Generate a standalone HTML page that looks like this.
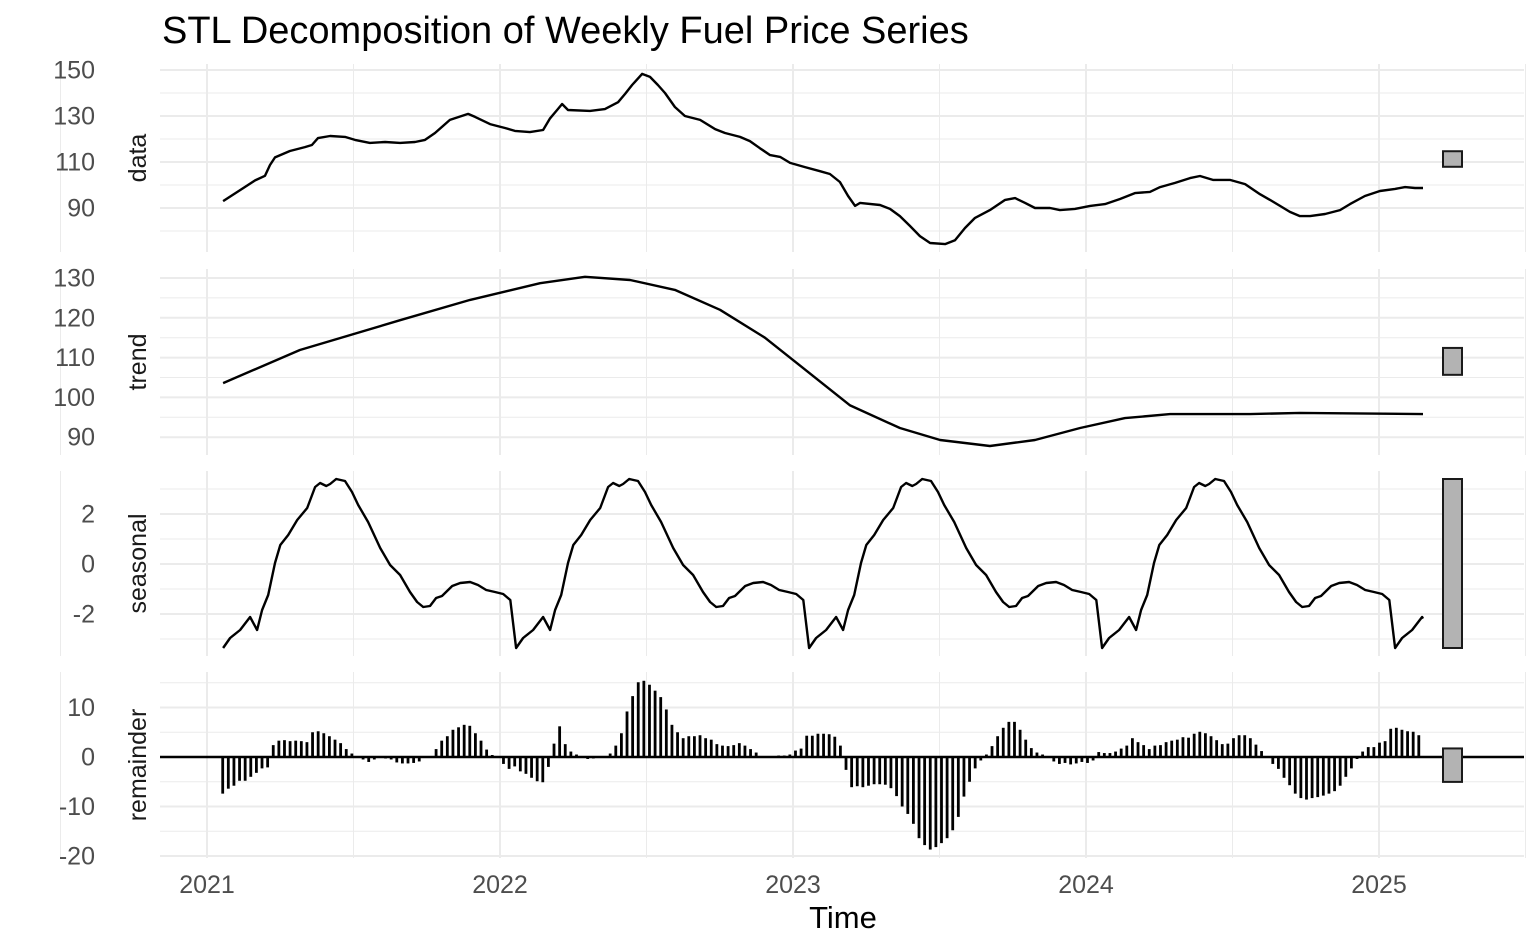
<!DOCTYPE html>
<html><head><meta charset="utf-8"><style>
html,body{margin:0;padding:0;background:#fff;}
svg{display:block;font-family:"Liberation Sans",Arial,sans-serif;}
</style></head><body>
<svg id="chart" width="1540" height="951" xmlns="http://www.w3.org/2000/svg">
<text x="162" y="43" font-size="38" fill="#000">STL Decomposition of Weekly Fuel Price Series</text>
<text x="843" y="928" font-size="31" fill="#000" text-anchor="middle">Time</text>
<g id="layer"></g>
</svg>
<script>
// ---- data ----
const dataTimes = [0.055,0.113,0.164,0.198,0.215,0.232,0.283,0.334,0.358,0.379,0.420,0.471,0.505,0.556,0.608,0.659,0.710,0.744,0.778,0.829,0.891,0.915,0.966,1.017,1.051,1.102,1.147,1.171,1.195,1.212,1.232,1.307,1.358,1.403,1.427,1.451,1.485,1.512,1.539,1.563,1.597,1.631,1.683,1.734,1.768,1.819,1.853,1.887,1.922,1.956,1.990,2.041,2.092,2.126,2.160,2.188,2.212,2.229,2.297,2.331,2.365,2.399,2.433,2.468,2.519,2.553,2.587,2.621,2.672,2.724,2.758,2.792,2.826,2.877,2.911,2.962,3.014,3.065,3.116,3.167,3.218,3.253,3.304,3.355,3.389,3.433,3.491,3.543,3.594,3.628,3.662,3.696,3.730,3.765,3.816,3.867,3.901,3.952,4.003,4.055,4.089,4.123,4.150];
const dataValues = [93,97.8,102,104,108.7,112,114.8,116.5,117.4,120.4,121.3,120.9,119.6,118.3,118.7,118.3,118.7,119.6,122.6,128.3,130.9,129.6,126.5,124.8,123.5,123,123.9,129,132.6,135.2,132.6,132.2,133,136,139.6,143.5,148.3,147,143.5,140,133.9,130,128.3,124.3,122.6,120.9,119.1,116,113,112.2,109.6,107.8,106,104.8,101.3,95.2,90.9,92.2,91.3,89.6,86.5,82.2,77.8,74.8,74.3,76,81.3,85.7,89.1,93.5,94.3,92.2,90,90,89.1,89.6,90.9,91.7,93.9,96.5,97,99.1,100.9,103,103.9,102.2,102.2,100.4,96,93.5,90.9,88.3,86.5,86.5,87.4,89.1,91.7,95.2,97.4,98.3,99.1,98.7,98.7];
const trendTimes = [0.055,0.317,0.659,0.898,1.137,1.290,1.444,1.597,1.751,1.904,2.024,2.195,2.365,2.502,2.672,2.826,2.980,3.133,3.287,3.560,3.730,4.150];
const trendValues = [103.6,111.9,119.4,124.5,128.7,130.3,129.5,127,122,115,108,98,92.3,89.3,87.8,89.3,92.3,94.8,95.8,95.8,96.1,95.8];
const seasonalPhase = [0,.024,.058,.092,.116,.133,.154,.177,.195,.222,.253,.287,.314,.331,.352,.365,.386,.416,.440,.461,.495,.536,.570,.604,.638,.662,.683,.706,.727,.747,.782,.809,.843,.870,.898,.928,.956,.980];
const seasonalValues = [-3.36,-2.96,-2.64,-2.12,-2.64,-1.84,-1.24,0.04,0.76,1.16,1.76,2.24,3.08,3.24,3.12,3.2,3.4,3.32,2.88,2.36,1.68,0.64,-0.04,-0.44,-1.12,-1.52,-1.72,-1.68,-1.36,-1.28,-0.88,-0.76,-0.72,-0.84,-1.04,-1.12,-1.2,-1.44];
const seasonalStart = 0.055, seasonalEnd = 4.150;
const remainderStart = 0.0536;
const remainderValues = [-7.4,-6.4,-5.8,-4.8,-4.8,-4.0,-3.2,-2.3,-2.1,2.4,3.3,3.4,3.2,3.3,3.2,3.0,5.0,5.2,4.8,4.2,3.5,2.8,1.6,0.7,0,-0.5,-1.0,-0.5,0,-0.3,-0.5,-1.1,-1.3,-1.3,-1.2,-0.9,-0.2,0.1,1.6,3.3,4.2,5.5,6.0,6.5,6.3,4.8,3.3,1.5,0.4,0,-1.4,-2.4,-1.9,-2.9,-3.4,-4.2,-4.9,-5.1,-2.0,2.7,6.2,2.6,1.1,0.5,0,-0.4,-0.3,0,0,0.7,2.3,
4.8,9.2,12.3,15.1,15.4,14.6,13.4,12.1,9.6,6.5,5.0,3.8,4.2,4.2,4.4,3.8,3.5,2.6,2.3,2.2,2.4,2.8,2.3,1.6,0.9,0,0.1,0,0.3,0.3,0.5,1.3,1.7,4.3,4.3,4.7,4.7,4.6,4.1,2.3,-2.6,-6.1,-5.9,-6.1,-5.8,-5.5,-5.5,-5.6,-6.3,-7.9,-10.0,-11.5,-13.5,-16.4,-17.8,-18.7,-18.2,-17.4,-16.4,-14.8,-12.1,-8.0,-5.0,-2.3,-0.7,0.5,2.2,4.2,5.9,7.1,7.1,
5.5,3.5,1.8,0.9,0.5,0,-0.9,-1.4,-1.2,-1.5,-1.3,-1.0,-1.2,-0.7,1.0,0.8,0.8,1.1,1.7,2.3,3.8,3.0,2.4,1.6,2.3,2.4,3.0,3.3,3.5,4.0,3.9,4.7,5.1,4.8,4.2,3.4,2.6,2.7,3.8,4.4,4.4,3.8,2.5,1.2,0,-1.4,-2.4,-4.2,-5.7,-7.4,-8.3,-8.6,-8.3,-8.1,-7.8,-7.4,-6.9,-5.8,-4.0,-2.3,-0.4,1.1,2.0,2.0,2.9,3.2,5.7,5.9,5.5,5.2,5.1,4.4];
const yearTicks = [2021,2022,2023,2024,2025];
const dataTicks = [150,130,110,90];
const trendTicks = [130,120,110,100,90];
const seasonalTicks = [2,0,-2];
const remainderTicks = [10,0,-10,-20];

// ---- scales ----
const X0 = 207, PXY = 293;
const xScale = t => X0 + t * PXY;
const panels = {
  data:      {y0:208, v0:90,  k:2.3,   top:64,  bot:252},
  trend:     {y0:278, v0:130, k:3.98,  top:269, bot:455},
  seasonal:  {y0:564, v0:0,   k:25,    top:471, bot:656},
  remainder: {y0:757, v0:0,   k:4.95,  top:672, bot:858}
};
const yS = p => v => p.y0 - (v - p.v0) * p.k;

const NS = 'http://www.w3.org/2000/svg';
const layer = document.getElementById('layer');
function mk(tag, attrs, parent) {
  const el = document.createElementNS(NS, tag);
  for (const k in attrs) el.setAttribute(k, attrs[k]);
  (parent || layer).appendChild(el);
  return el;
}

function drawPanel(name, ticks, minorStep, label) {
  const p = panels[name], y = yS(p);
  const g = mk('g', {});
  
  
  const vmin = p.v0 - (p.bot - p.y0) / p.k, vmax = p.v0 + (p.y0 - p.top) / p.k;
  for (let v = Math.ceil(vmin / minorStep) * minorStep; v <= vmax; v += minorStep) {
    if (ticks.includes(v)) continue;
    const l = mk('line', {x1:160, x2:1524, y1:y(v), y2:y(v), stroke:'#ebebeb', 'stroke-width':1}, g);
    
    
  }
  for (let t = 2020.5; t <= 2025.5; t += 0.5) {
    const major = Number.isInteger(t);
    const l = mk('line', {x1:xScale(t-2021), x2:xScale(t-2021), y1:p.top, y2:p.bot, stroke:'#ebebeb', 'stroke-width': major ? 2 : 1}, g);
    
    
  }
  ticks.forEach(v => {
    const l = mk('line', {x1:160, x2:1524, y1:y(v), y2:y(v), stroke:'#ebebeb', 'stroke-width':2}, g);
    
    
    const tx = mk('text', {x:95, y:y(v)+8.5, 'font-size':25, fill:'#4d4d4d', 'text-anchor':'end'}, g);
    tx.textContent = v;
    
    
  });
  const cy = (p.top + p.bot) / 2;
  const lab = mk('text', {x:0, y:0, 'font-size':25, fill:'#1a1a1a', 'text-anchor':'middle', transform:`translate(146,${cy}) rotate(-90)`}, g);
  lab.textContent = label;
  
  
}
drawPanel('data', dataTicks, 10, 'data');
drawPanel('trend', trendTicks, 5, 'trend');
drawPanel('seasonal', seasonalTicks, 1, 'seasonal');
drawPanel('remainder', remainderTicks, 5, 'remainder');

function line(name, times, vals) {
  const y = yS(panels[name]);
  const d = times.map((t, i) => (i ? 'L' : 'M') + xScale(t).toFixed(1) + ',' + y(vals[i]).toFixed(1)).join('');
  const pth = mk('path', {d, fill:'none', stroke:'#000', 'stroke-width':2.4, 'stroke-linejoin':'round'});
  
  
}
line('data', dataTimes, dataValues);
line('trend', trendTimes, trendValues);
const sT = [], sV = [];
for (let k = 0; k < 6; k++) {
  seasonalPhase.forEach((ph, i) => {
    const t = seasonalStart + k + ph;
    if (t <= seasonalEnd + 1e-6) { sT.push(t); sV.push(seasonalValues[i]); }
  });
}
{
  const ph = seasonalEnd - seasonalStart - Math.floor(seasonalEnd - seasonalStart);
  let j = seasonalPhase.findIndex(p => p > ph);
  if (j > 0 && sT[sT.length-1] < seasonalEnd) {
    const f = (ph - seasonalPhase[j-1]) / (seasonalPhase[j] - seasonalPhase[j-1]);
    sT.push(seasonalEnd); sV.push(seasonalValues[j-1] + f * (seasonalValues[j] - seasonalValues[j-1]));
  }
}
line('seasonal', sT, sV);

{
  const y = yS(panels.remainder);
  remainderValues.forEach((v, i) => {
    const x = xScale(remainderStart + i / 52.1775);
    const r = mk('rect', {x:x-1.4, y:Math.min(y(v), y(0)), width:2.8, height:Math.max(0.5, Math.abs(y(v) - y(0))), fill:'#000'});
    
    
  });
  const z = mk('line', {x1:160, x2:1524, y1:y(0), y2:y(0), stroke:'#000', 'stroke-width':2.4});
  
  
}

{
  const half = (Math.max(...seasonalValues) - Math.min(...seasonalValues)) / 2;
  const series = {data: dataValues, trend: trendValues, seasonal: seasonalValues, remainder: remainderValues};
  for (const name in series) {
    const y = yS(panels[name]);
    const vals = series[name];
    const mid = (Math.max(...vals) + Math.min(...vals)) / 2;
    const r = mk('rect', {x:1443, y:y(mid + half), width:19, height:y(mid - half) - y(mid + half), fill:'#b3b3b3', stroke:'#1a1a1a', 'stroke-width':2});
    
    
  }
}

yearTicks.forEach(yr => {
  const t = mk('text', {x:xScale(yr-2021), y:893, 'font-size':25, fill:'#4d4d4d', 'text-anchor':'middle'});
  t.textContent = yr;
  
  
});
</script>
</body></html>
